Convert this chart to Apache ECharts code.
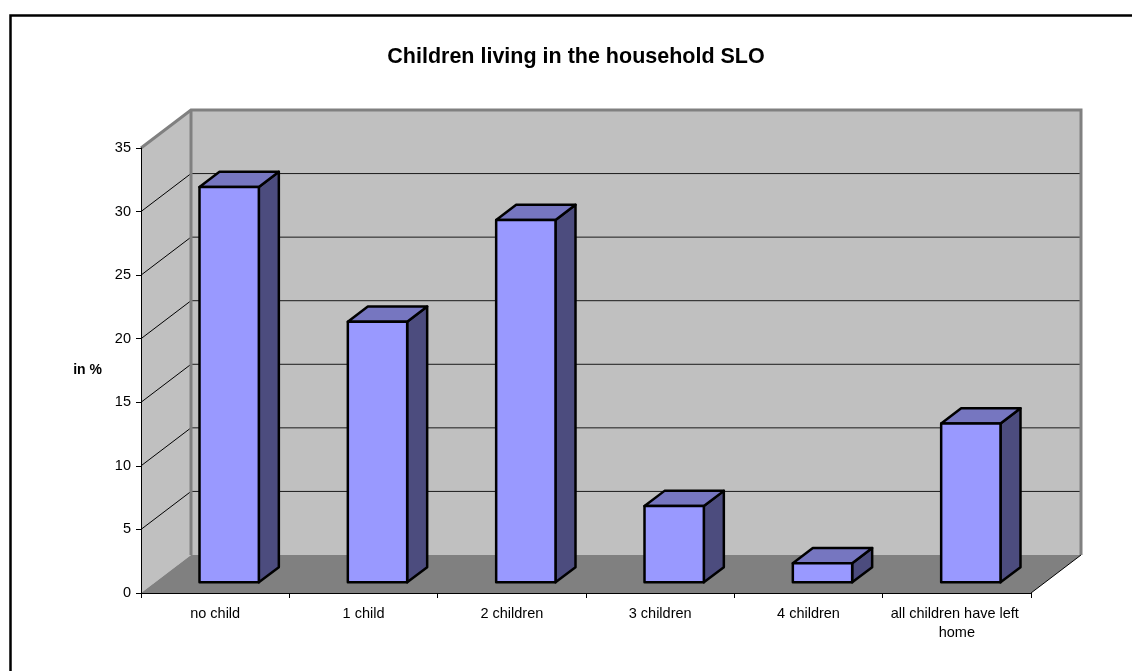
<!DOCTYPE html>
<html>
<head>
<meta charset="utf-8">
<title>Children living in the household SLO</title>
<script src="https://cdn.jsdelivr.net/npm/echarts@6/dist/echarts.min.js"></script>
<style>
  html, body { margin: 0; padding: 0; background: #ffffff; }
  #chart { width: 1132px; height: 671px; }
</style>
</head>
<body>
<div id="chart"></div>
<script>
// Share of households by number of children living at home (in %)
const categories = ['no child', '1 child', '2 children', '3 children', '4 children', 'all children have left home'];
const shares = [31.1, 20.5, 28.5, 6.0, 1.5, 12.5];
const yMax = 35;
const yStep = 5;

// Pseudo-3D geometry: offset from the front plane to the back wall (px)
const DEPTH_X = 50;
const DEPTH_Y = -38;
// Bars sit part-way into the depth and occupy a slice of it
const BAR_FRONT = 0.28;
const BAR_DEPTH = 0.4;
const BAR_WIDTH = 0.4;

const FONT = "'Liberation Sans', Arial, Helvetica, sans-serif";

const chart = echarts.init(document.getElementById('chart'), null, { renderer: 'canvas' });

function renderWalls(params, api) {
  const cs = params.coordSys;
  const x0 = cs.x, x1 = cs.x + cs.width;
  const yT = cs.y, yB = cs.y + cs.height;
  const dx = DEPTH_X, dy = DEPTH_Y;
  const children = [];
  // back wall
  children.push({ type: 'polygon', shape: { points: [[x0 + dx, yT + dy], [x1 + dx, yT + dy], [x1 + dx, yB + dy], [x0 + dx, yB + dy]] },
    style: { fill: '#c0c0c0', stroke: null } });
  // side wall
  children.push({ type: 'polygon', shape: { points: [[x0, yT], [x0 + dx, yT + dy], [x0 + dx, yB + dy], [x0, yB]] },
    style: { fill: '#c0c0c0', stroke: null } });
  // floor
  children.push({ type: 'polygon', shape: { points: [[x0, yB], [x0 + dx, yB + dy], [x1 + dx, yB + dy], [x1, yB]] },
    style: { fill: '#808080', stroke: null } });
  // gridlines across side wall and back wall
  for (let v = yStep; v < yMax; v += yStep) {
    const y = api.coord([0, v])[1];
    children.push({ type: 'line', shape: { x1: x0, y1: y, x2: x0 + dx, y2: y + dy },
      style: { stroke: '#000000', lineWidth: 1 } });
    children.push({ type: 'line', shape: { x1: x0 + dx, y1: y + dy, x2: x1 + dx, y2: y + dy },
      style: { stroke: '#1a1a1a', lineWidth: 1 } });
  }
  // wall edges
  children.push({ type: 'polyline', shape: { points: [[x0, yT], [x0 + dx, yT + dy], [x1 + dx, yT + dy], [x1 + dx, yB + dy]] },
    style: { stroke: '#808080', lineWidth: 3, fill: null, lineJoin: 'miter' } });
  children.push({ type: 'line', shape: { x1: x0 + dx, y1: yT + dy, x2: x0 + dx, y2: yB + dy },
    style: { stroke: '#808080', lineWidth: 3 } });
  children.push({ type: 'line', shape: { x1: x1, y1: yB, x2: x1 + dx, y2: yB + dy },
    style: { stroke: '#000000', lineWidth: 1 } });
  return { type: 'group', children: children };
}

function renderBar(params, api) {
  const idx = api.value(0);
  const val = api.value(1);
  const base = api.coord([idx, 0]);
  const top = api.coord([idx, val]);
  const w = api.size([1, 0])[0] * BAR_WIDTH;
  const fx = BAR_FRONT * DEPTH_X, fy = BAR_FRONT * DEPTH_Y;
  const bx = BAR_DEPTH * DEPTH_X, by = BAR_DEPTH * DEPTH_Y;
  const xl = base[0] - w / 2 + fx, xr = base[0] + w / 2 + fx;
  const yt = top[1] + fy, yb = base[1] + fy;
  const edge = { stroke: '#000000', lineWidth: 2.5, lineJoin: 'round' };
  return {
    type: 'group',
    children: [
      { type: 'polygon', shape: { points: [[xr, yt], [xr + bx, yt + by], [xr + bx, yb + by], [xr, yb]] },
        style: Object.assign({ fill: '#4c4c7e' }, edge) },
      { type: 'polygon', shape: { points: [[xl, yt], [xl + bx, yt + by], [xr + bx, yt + by], [xr, yt]] },
        style: Object.assign({ fill: '#7676c0' }, edge) },
      { type: 'polygon', shape: { points: [[xl, yt], [xr, yt], [xr, yb], [xl, yb]] },
        style: Object.assign({ fill: '#9999ff' }, edge) }
    ]
  };
}

const option = {
  backgroundColor: '#ffffff',
  animation: false,
  textStyle: { fontFamily: FONT },
  graphic: [
    { type: 'rect', left: 8, top: 13, z: 100, silent: true,
      shape: { x: 0, y: 0, width: 1200, height: 700 },
      style: { fill: null, stroke: '#000000', lineWidth: 2.5 } },
    { type: 'text', x: 576, y: 57, z: 100,
      style: { text: 'Children living in the household SLO', fill: '#000000',
        font: 'bold 21.5px ' + FONT, textAlign: 'center', textVerticalAlign: 'middle' } }
  ],
  grid: { left: 141, top: 148, width: 890, height: 445, containLabel: false },
  xAxis: {
    type: 'category',
    data: categories,
    z: 5,
    boundaryGap: true,
    axisLine: { show: true, lineStyle: { color: '#000000', width: 1 } },
    axisTick: { show: true, length: 5, interval: 0, alignWithLabel: false, lineStyle: { color: '#000000' } },
    axisLabel: { interval: 0, color: '#000000', fontSize: 14.5, fontFamily: FONT, margin: 11,
      width: 146, overflow: 'break', lineHeight: 19 },
    splitLine: { show: false }
  },
  yAxis: {
    type: 'value',
    min: 0,
    max: yMax,
    interval: yStep,
    z: 5,
    name: 'in %',
    nameLocation: 'middle',
    nameRotate: 0,
    nameGap: 39,
    nameTextStyle: { color: '#000000', fontSize: 14, fontWeight: 'bold', fontFamily: FONT, align: 'right' },
    axisLine: { show: true, lineStyle: { color: '#000000', width: 1 } },
    axisTick: { show: true, length: 5, lineStyle: { color: '#000000' } },
    axisLabel: { color: '#000000', fontSize: 14.5, fontFamily: FONT, margin: 10 },
    splitLine: { show: false }
  },
  series: [
    {
      type: 'custom',
      name: 'walls',
      silent: true,
      z: 1,
      clip: false,
      renderItem: renderWalls,
      data: [[0, 0]]
    },
    {
      type: 'custom',
      name: 'in %',
      z: 3,
      clip: false,
      renderItem: renderBar,
      encode: { x: 0, y: 1 },
      data: shares.map((v, i) => [i, v])
    }
  ]
};

chart.setOption(option);
</script>
</body>
</html>
